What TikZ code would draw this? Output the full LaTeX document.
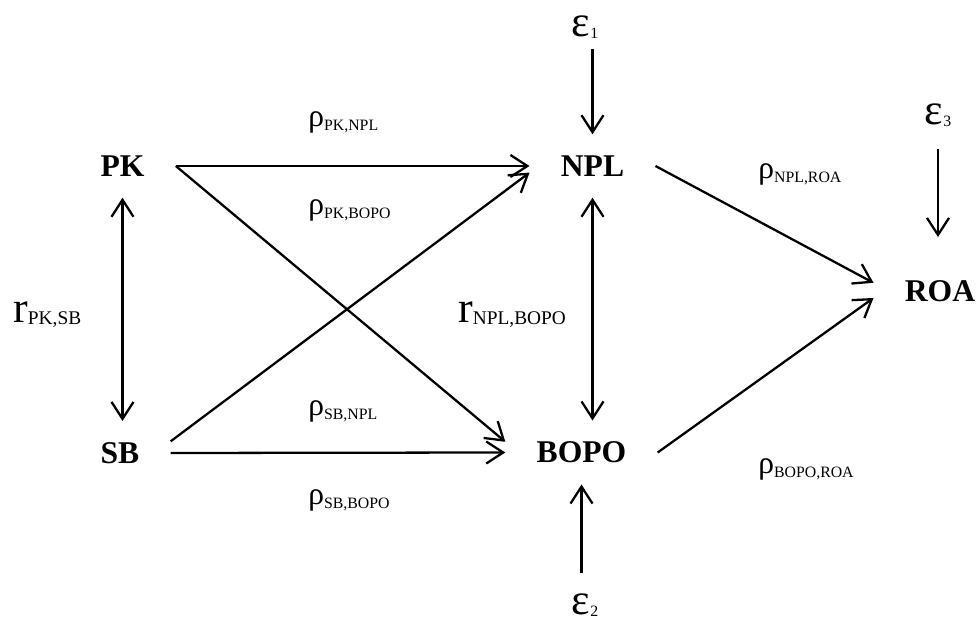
\documentclass[tikz,border=0pt]{standalone}
\usepackage{fontspec}
\setmainfont{Liberation Serif}
\usetikzlibrary{arrows.meta}

\newcommand{\pcoef}[1]{{\fontsize{18}{18}\selectfont ρ}\raisebox{-2pt}{\fontsize{9}{9}\selectfont #1}}
\newcommand{\rcoef}[1]{{\fontsize{25}{25}\selectfont r}\raisebox{-1pt}{\fontsize{11}{11}\selectfont #1}}
\newcommand{\epsi}[1]{{\fontsize{25}{25}\selectfont ε}\raisebox{-1pt}{\fontsize{9}{9}\selectfont #1}}

\tikzset{
	var/.style={font=\fontsize{18}{18}\selectfont\bfseries, inner xsep=0.62cm, inner ysep=0.42cm},
	err/.style={inner sep=0.2cm},
	lab/.style={inner sep=0pt, anchor=base west},
	link/.style={-{Straight Barb[length=0.34cm,width=0.44cm]}, line width=1.3pt},
	corr/.style={{Straight Barb[length=0.34cm,width=0.44cm]}-{Straight Barb[length=0.34cm,width=0.44cm]}, line width=1.3pt}
}

\begin{document}
\begin{tikzpicture}
			\useasboundingbox (0,0) rectangle (19.56,12.5);
			% variables
			\node[var] (pk) at (2.45,9.18) {PK};
			\node[var] (npl) at (11.85,9.18) {NPL};
			\node[var] (sb) at (2.4,3.44) {SB};
			\node[var] (bopo) at (11.63,3.45) {BOPO};
			\node[var] (roa) at (18.8,6.68) {ROA};
			% errors
			\node[err] (e1) at (11.7,11.96) {\epsi{1}};
			\node[err] (e2) at (11.7,0.4) {\epsi{2}};
			\node[err] (e3) at (18.76,10.2) {\epsi{3}};
			% coefficients
			\node[lab] (pknpl) at (6.16,9.96) {\pcoef{PK,NPL}};
			\node[lab] (pkbopo) at (6.16,8.2) {\pcoef{PK,BOPO}};
			\node[lab] (sbnpl) at (6.16,4.18) {\pcoef{SB,NPL}};
			\node[lab] (sbbopo) at (6.16,2.4) {\pcoef{SB,BOPO}};
			\node[lab] (nplroa) at (15.16,8.92) {\pcoef{NPL,ROA}};
			\node[lab] (boporoa) at (15.16,3.02) {\pcoef{BOPO,ROA}};
			\node[lab] (pksb) at (0.26,6.04) {\rcoef{PK,SB}};
			\node[lab] (nplbopo) at (9.16,6.04) {\rcoef{NPL,BOPO}};
			% paths
			\draw[link] (pk.east) -- (npl.west);
			\draw[link] (pk.east) -- (bopo.172);
			\draw[link] (sb.13) -- (npl.186);
			\draw[link] (sb.east) -- (bopo.west);
			\draw[link] (npl.east) -- (roa.173);
			\draw[link] (bopo.east) -- (roa.186);
			\draw[corr] (pk.south) -- (pk.south |- sb.north);
			\draw[corr] (npl.south) -- (npl.south |- bopo.north);
			\draw[link] (npl.north |- e1.south) -- (npl.north);
			\draw[link, shorten <=0.2cm] (bopo.south |- e2.north) -- (bopo.south);
			\draw[link, shorten <=0.24cm, shorten >=0.44cm] (e3.south) -- (e3.south |- roa.north);
		\end{tikzpicture}
\end{document}
